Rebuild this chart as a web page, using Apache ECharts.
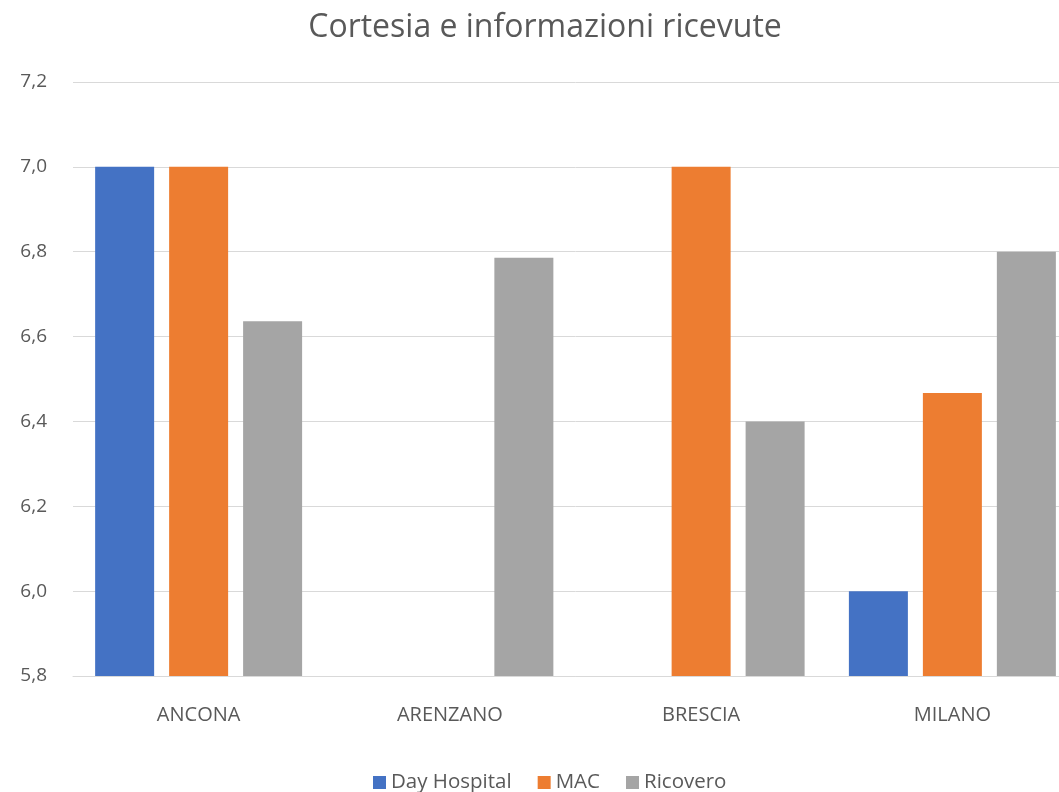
<!DOCTYPE html>
<html>
<head>
<meta charset="utf-8">
<script src="https://cdn.jsdelivr.net/npm/echarts@6/dist/echarts.min.js"></script>
<style>
  html, body { margin: 0; padding: 0; background: #fff; overflow: hidden; }
  /* il grafico originale è tagliato a destra: il contenitore è più largo della finestra */
  #chart { width: 1090px; height: 792px; }
</style>
</head>
<body>
<div id="chart"></div>
<script>
// dati
var categories = ['ANCONA', 'ARENZANO', 'BRESCIA', 'MILANO'];
var dayHospital = [7.0, null, null, 6.0];
var mac = [7.0, null, 7.0, 6.467];
var ricovero = [6.636, 6.786, 6.4, 6.8];
var seriesNames = ['Day Hospital', 'MAC', 'Ricovero'];

var font = 'Open Sans, Noto Sans, sans-serif';
var textColor = '#595959';

var myChart = echarts.init(document.getElementById('chart'));

var option = {
    animation: false,
    color: ['#4472C4', '#ED7D31', '#A5A5A5'],
    title: {
        text: 'Cortesia e informazioni ricevute',
        left: 'center',
        top: 7,
        textStyle: { fontFamily: font, fontSize: 32, fontWeight: 'normal', color: textColor }
    },
    legend: {
        top: 767,
        left: 368,
        icon: 'rect',
        itemWidth: 13,
        itemHeight: 13,
        itemGap: 26,
        textStyle: { fontFamily: font, fontSize: 20.5, color: textColor },
        data: seriesNames
    },
    grid: { left: 73, right: 12, top: 82, bottom: 116 },
    xAxis: {
        type: 'category',
        data: categories,
        axisLine: { lineStyle: { color: '#d9d9d9', width: 1 } },
        axisTick: { show: false },
        axisLabel: { fontFamily: font, fontSize: 20, color: textColor, margin: 29 }
    },
    yAxis: {
        type: 'value',
        min: 5.8,
        max: 7.2,
        interval: 0.2,
        axisLine: { show: false },
        axisTick: { show: false },
        splitLine: { lineStyle: { color: '#d9d9d9', width: 1 } },
        axisLabel: {
            fontFamily: font, fontSize: 19, color: textColor, margin: 26,
            formatter: function (v) { return v.toFixed(1).replace('.', ','); }
        }
    },
    series: [
        { name: seriesNames[0], type: 'bar', data: dayHospital, barWidth: 59, barGap: '25.4%' },
        { name: seriesNames[1], type: 'bar', data: mac, barWidth: 59, barGap: '25.4%' },
        { name: seriesNames[2], type: 'bar', data: ricovero, barWidth: 59, barGap: '25.4%' }
    ]
};

myChart.setOption(option);
</script>
</body>
</html>
